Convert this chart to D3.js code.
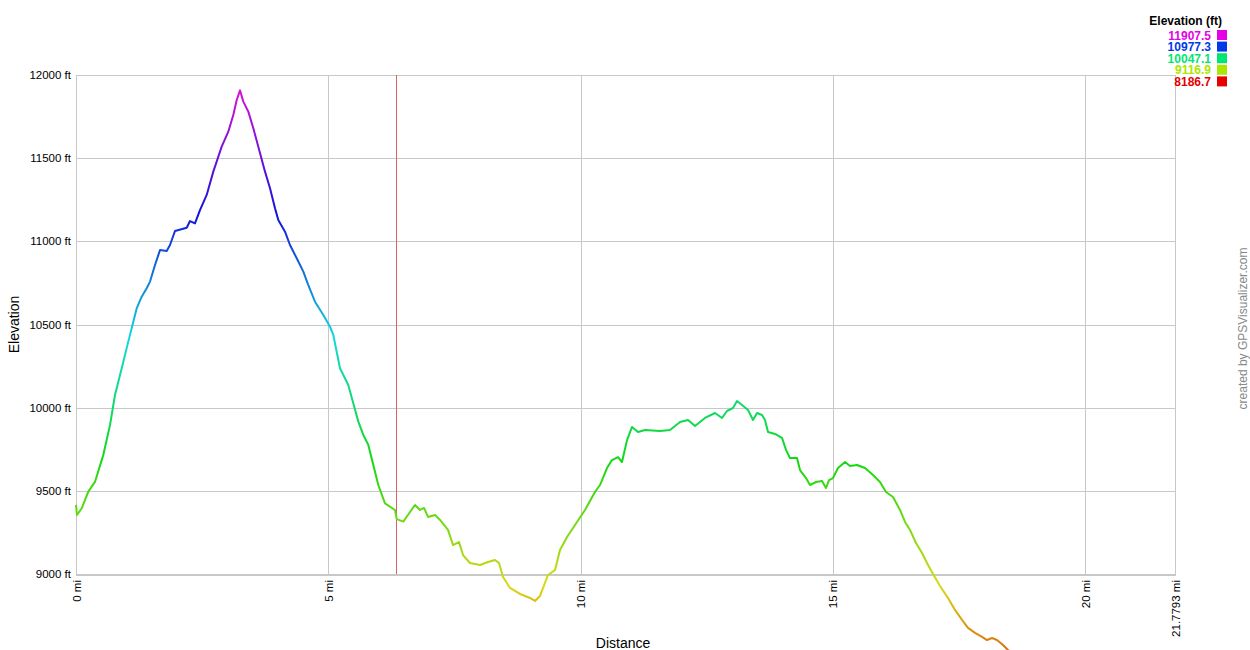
<!DOCTYPE html>
<html>
<head>
<meta charset="utf-8">
<script src="https://cdn.jsdelivr.net/npm/d3@7"></script>
<style>
  html, body { margin: 0; padding: 0; background: #fff; }
  svg { display: block; font-family: "Liberation Sans", Arial, sans-serif; }
</style>
</head>
<body>
<svg id="chart" width="1250" height="650"></svg>
<script>
// ---- data ----
const distanceMi = [
  0, 0.02, 0.113, 0.244, 0.377, 0.541, 0.674, 0.773, 0.906, 1.036, 1.136, 1.203, 1.302, 1.401, 1.467,
  1.566, 1.665, 1.797, 1.863, 1.962, 2.194, 2.259, 2.358, 2.457, 2.590, 2.721, 2.887, 3.018, 3.117,
  3.185, 3.250, 3.316, 3.415, 3.514, 3.613, 3.746, 3.845, 3.944, 4.009, 4.142, 4.241, 4.374, 4.505,
  4.604, 4.736, 4.901, 5.034, 5.099, 5.232, 5.396, 5.495, 5.595, 5.694, 5.793, 5.892, 5.991, 6.124,
  6.322, 6.356, 6.486, 6.619, 6.718, 6.817, 6.897, 6.976, 7.115, 7.214, 7.372, 7.471, 7.590, 7.670,
  7.808, 8.006, 8.165, 8.304, 8.383, 8.462, 8.601, 8.799, 8.997, 9.096, 9.195, 9.294, 9.354, 9.493,
  9.592, 9.731, 9.889, 10.087, 10.285, 10.384, 10.523, 10.622, 10.741, 10.820, 10.920, 11.019, 11.137,
  11.276, 11.574, 11.772, 11.970, 12.129, 12.267, 12.465, 12.664, 12.802, 12.901, 13.020, 13.100,
  13.199, 13.318, 13.417, 13.496, 13.595, 13.654, 13.714, 13.852, 13.991, 14.071, 14.150, 14.289,
  14.348, 14.467, 14.546, 14.665, 14.784, 14.863, 14.923, 15.002, 15.101, 15.240, 15.339, 15.478,
  15.636, 15.795, 15.933, 16.052, 16.191, 16.330, 16.429, 16.528, 16.647, 16.766, 16.885, 16.984,
  17.122, 17.281, 17.420, 17.559, 17.677, 17.816, 17.955, 18.054, 18.153, 18.252, 18.371, 18.470,
  18.8, 19.5, 20.3, 21.0, 21.7793
];
const elevationFt = [
  9415, 9355, 9395, 9495, 9555, 9715, 9896, 10076, 10237, 10397, 10517, 10597, 10667, 10718, 10758,
  10858, 10948, 10942, 10978, 11062, 11082, 11122, 11108, 11188, 11279, 11419, 11569, 11659, 11759,
  11850, 11907.5, 11840, 11780, 11680, 11569, 11419, 11319, 11199, 11128, 11058, 10978, 10898, 10818,
  10737, 10637, 10557, 10487, 10437, 10237, 10136, 10026, 9916, 9836, 9776, 9655, 9535, 9425,
  9385, 9330, 9315, 9373, 9415, 9385, 9397, 9343, 9355, 9325, 9265, 9174, 9192, 9114,
  9066, 9054, 9072, 9084, 9066, 8982, 8916, 8880, 8856, 8838, 8868, 8946, 8994, 9024,
  9144, 9222, 9295, 9385, 9493, 9535, 9637, 9685, 9703, 9673, 9805, 9884, 9854,
  9866, 9860, 9866, 9914, 9926, 9890, 9938, 9968, 9938, 9980, 9998, 10040,
  10016, 9986, 9926, 9968, 9956, 9926, 9854, 9842, 9818, 9746, 9697, 9697,
  9625, 9577, 9535, 9553, 9559, 9517, 9565, 9577, 9637, 9673, 9649, 9655,
  9637, 9595, 9553, 9493, 9463, 9385, 9313, 9265, 9186, 9126, 9054, 9000,
  8928, 8856, 8784, 8724, 8676, 8646, 8622, 8603, 8615, 8603, 8573, 8543,
  8480, 8400, 8300, 8230, 8186.7
];
const yTicks = [9000, 9500, 10000, 10500, 11000, 11500, 12000];
const xTicks = [0, 5, 10, 15, 20];
const xMax = 21.7793;
const markerMi = [6.34];
const legendValues = [11907.5, 10977.3, 10047.1, 9116.9, 8186.7];
const legendTitle = "Elevation (ft)";
const yTitle = "Elevation";
const xTitle = "Distance";
const credit = "created by GPSVisualizer.com";

// ---- layout ----
const svg = d3.select("#chart");
const pLeft = 76, pRight = 1175, pTop = 75, pBottom = 574;
const x = d3.scaleLinear().domain([0, xMax]).range([pLeft, pRight]);
const y = d3.scaleLinear().domain([9000, 12000]).range([pBottom, pTop]);
const eMin = d3.min(elevationFt), eMax = d3.max(elevationFt);
const hue = d3.scaleLinear().domain([eMin, eMax]).range([0, 300]);
const lineColor = e => d3.hsl(hue(e), 0.85, 0.46).toString();
const keyColor = e => d3.hsl(hue(e), 1, 0.45).toString();

// gridlines
const grid = svg.append("g");
grid.selectAll("line.h").data(yTicks).join("line").attr("class", "h")
  .attr("x1", pLeft).attr("x2", pRight)
  .attr("y1", d => Math.round(y(d)) + 0.5).attr("y2", d => Math.round(y(d)) + 0.5)
  .attr("stroke", "#c8c8c8").attr("stroke-width", 1);
grid.selectAll("line.v").data(xTicks.concat([xMax])).join("line").attr("class", "v")
  .attr("x1", d => Math.round(x(d)) + 0.5).attr("x2", d => Math.round(x(d)) + 0.5)
  .attr("y1", pTop).attr("y2", pBottom)
  .attr("stroke", "#c8c8c8").attr("stroke-width", 1);
svg.append("line").attr("x1", pLeft).attr("x2", pRight + 1).attr("y1", pBottom + 1).attr("y2", pBottom + 1)
  .attr("stroke", "#c8c8c8").attr("stroke-width", 2);

// y tick labels
svg.append("g").selectAll("text").data(yTicks).join("text")
  .attr("x", pLeft - 5).attr("y", d => y(d) + 4)
  .attr("text-anchor", "end").attr("font-size", 11.5).attr("fill", "#000")
  .text(d => d + " ft");

// x tick labels (rotated)
svg.append("g").selectAll("text").data(xTicks.concat([xMax])).join("text")
  .attr("transform", d => `translate(${x(d) + 4.5},${pBottom + 6}) rotate(-90)`)
  .attr("text-anchor", "end").attr("font-size", 11.5).attr("fill", "#000")
  .text(d => d + " mi");

// titles
svg.append("text").attr("transform", `translate(19,${(pTop + pBottom) / 2}) rotate(-90)`)
  .attr("text-anchor", "middle").attr("font-size", 14).text(yTitle);
svg.append("text").attr("x", 623).attr("y", 648)
  .attr("text-anchor", "middle").attr("font-size", 14).text(xTitle);
svg.append("text").attr("transform", `translate(1247,${(pTop + pBottom) / 2 + 4}) rotate(-90)`)
  .attr("text-anchor", "middle").attr("font-size", 12).attr("fill", "#888").text(credit);

// marker line
svg.append("g").selectAll("line").data(markerMi).join("line")
  .attr("x1", d => Math.round(x(d)) + 0.5).attr("x2", d => Math.round(x(d)) + 0.5)
  .attr("y1", pTop).attr("y2", pBottom)
  .attr("stroke", "rgb(215,100,100)").attr("stroke-width", 1);

// gradient by elevation (vertical)
const defs = svg.append("defs");
const grad = defs.append("linearGradient").attr("id", "elevGrad")
  .attr("gradientUnits", "userSpaceOnUse")
  .attr("x1", 0).attr("x2", 0).attr("y1", y(eMin)).attr("y2", y(eMax));
d3.range(0, 31).forEach(i => {
  const e = eMin + (eMax - eMin) * i / 30;
  grad.append("stop").attr("offset", (i / 30 * 100) + "%").attr("stop-color", lineColor(e));
});

const pts = distanceMi.map((d, i) => [d, elevationFt[i]]);
const line = d3.line().x(d => x(d[0])).y(d => y(d[1]));
svg.append("path").datum(pts).attr("d", line)
  .attr("fill", "none").attr("stroke", "url(#elevGrad)").attr("stroke-width", 2)
  .attr("stroke-linejoin", "round");

// legend
svg.append("text").attr("x", 1222).attr("y", 25).attr("text-anchor", "end")
  .attr("font-size", 12).attr("font-weight", "bold").text(legendTitle);
const lg = svg.append("g").selectAll("g").data(legendValues).join("g")
  .attr("transform", (d, i) => `translate(0,${35 + i * 11.6})`);
lg.append("text").attr("x", 1211).attr("y", 4.5).attr("text-anchor", "end")
  .attr("font-size", 12).attr("font-weight", "bold").attr("fill", d => keyColor(d))
  .text(d => d.toFixed(1));
lg.append("rect").attr("x", 1217).attr("y", -5).attr("width", 10).attr("height", 10)
  .attr("fill", d => keyColor(d));
</script>
</body>
</html>
